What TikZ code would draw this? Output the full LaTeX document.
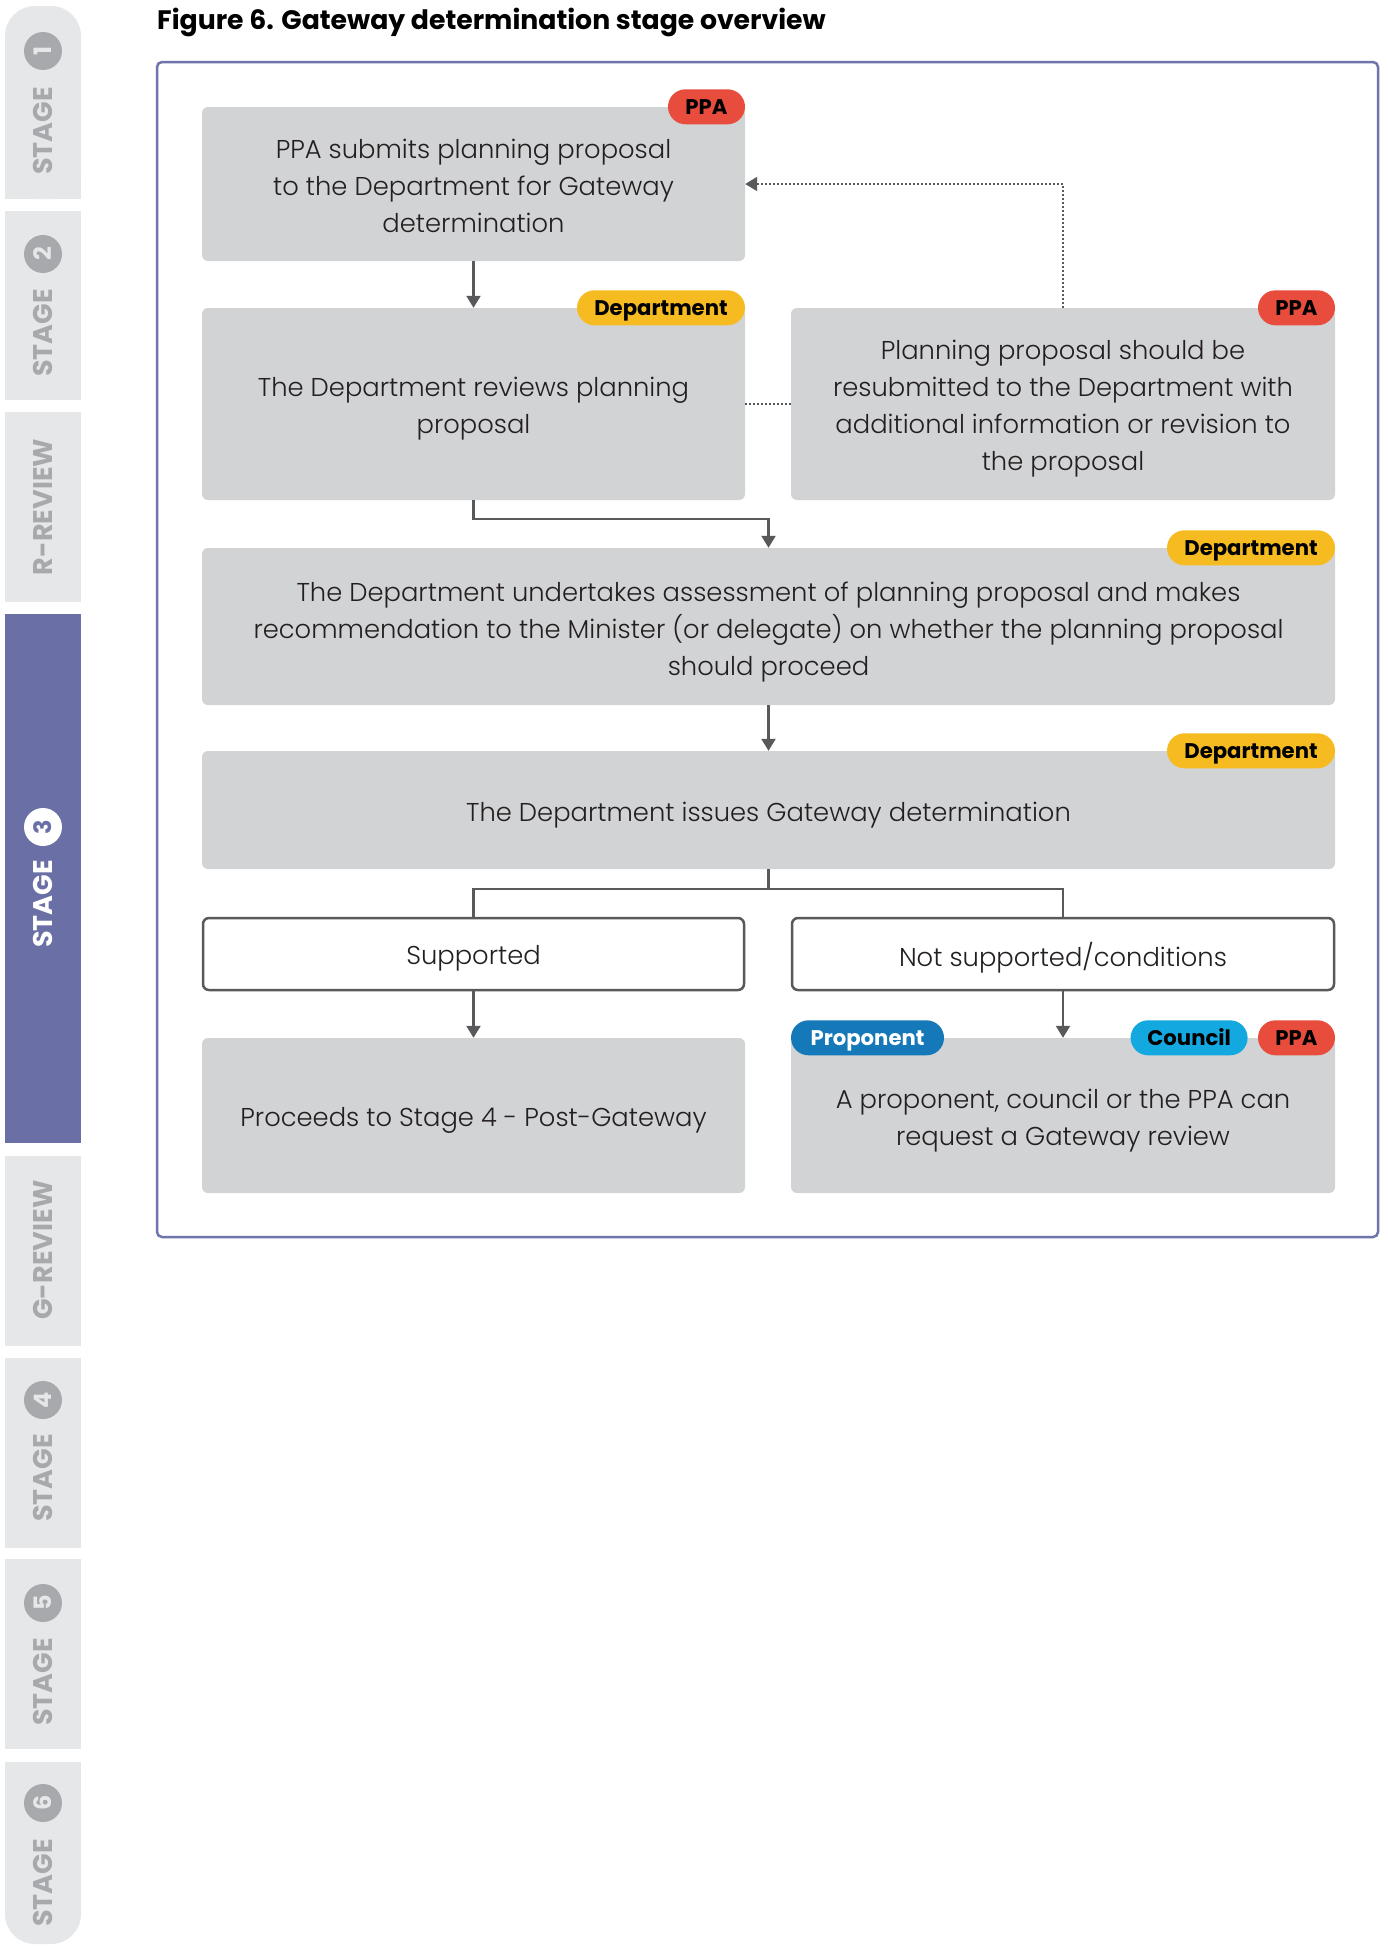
\documentclass[tikz,border=0pt]{standalone}
\usepackage{fontspec}
\setmainfont{Poppins}
\newfontfamily\lightfont{Poppins Light}
\usetikzlibrary{arrows.meta}
\definecolor{tabgrey}{HTML}{E6E7E8}
\definecolor{tabtext}{HTML}{A7A9AC}
\definecolor{stagepurple}{HTML}{6A70A6}
\definecolor{framecol}{HTML}{6E74AC}
\definecolor{boxgrey}{HTML}{D1D3D4}
\definecolor{txt}{HTML}{231F20}
\definecolor{linegrey}{HTML}{58595B}
\definecolor{ppared}{HTML}{E84C3D}
\definecolor{deptyellow}{HTML}{F6BB21}
\definecolor{propblue}{HTML}{1578B9}
\definecolor{councilcyan}{HTML}{13A8E0}
\newcommand\myBody{\lightfont\fontsize{25.8}{37}\selectfont}
\newcommand\myBadge{\bfseries\fontsize{21.2}{21}\selectfont}
\begin{document}
\begin{tikzpicture}[x=1pt,y=-1pt,
  box/.style={fill=boxgrey, rounded corners=6pt, inner sep=0pt},
  outbox/.style={fill=white, draw=linegrey, line width=2.5pt, rounded corners=6pt, inner sep=0pt},
  boxtext/.style={align=center, font=\myBody, text=txt, inner sep=0pt},
  badge/.style={rounded corners=17.5pt, minimum height=35pt, inner sep=0pt, font=\myBadge, text=black, text height=15pt, text depth=0pt},
  arr/.style={draw=linegrey, line width=2.2pt, -{Triangle[width=14pt,length=12pt]}},
  plainline/.style={draw=linegrey, line width=2.2pt},
  dotline/.style={draw=linegrey, line width=2pt, dash pattern=on 2pt off 2pt},
  stagetxt/.style={rotate=90, font=\bfseries\fontsize{27}{27}\selectfont, text=tabtext, inner sep=0pt},
  stagecirc/.style={circle, fill=tabtext, minimum size=38pt, inner sep=0pt, rotate=90, font=\bfseries\fontsize{24}{24}\selectfont, text=tabgrey}
]
\useasboundingbox (0,0) rectangle (1388,1946);
\fill[white] (0,0) rectangle (1388,1946);

% sidebar tabs
\fill[tabgrey, rounded corners=30pt] (5,6) rectangle (81,199);
\fill[tabgrey] (5,100) rectangle (81,199);
\fill[tabgrey] (5,211) rectangle (81,400);
\fill[tabgrey] (5,412) rectangle (81,602);
\fill[stagepurple] (5,614) rectangle (81,1143);
\fill[tabgrey] (5,1156) rectangle (81,1346);
\fill[tabgrey] (5,1358) rectangle (81,1548);
\fill[tabgrey] (5,1559) rectangle (81,1749);
\fill[tabgrey, rounded corners=30pt] (5,1762) rectangle (81,1944);
\fill[tabgrey] (5,1762) rectangle (81,1850);

\node[stagetxt] (s1) at (43,131) {STAGE};
\node[stagecirc] (c1) at (43,51) {1};
\node[stagetxt] (s2) at (43,333) {STAGE};
\node[stagecirc] (c2) at (43,254) {2};
\node[stagetxt] (sr) at (43,507) {R-REVIEW};
\node[stagetxt, text=white] (s3) at (43,904) {STAGE};
\node[stagecirc, fill=white, text=stagepurple] (c3) at (43,827) {3};
\node[stagetxt] (sg) at (43,1250) {G-REVIEW};
\node[stagetxt] (s4) at (43,1478) {STAGE};
\node[stagecirc] (c4) at (43,1400) {4};
\node[stagetxt] (s5) at (43,1682) {STAGE};
\node[stagecirc] (c5) at (43,1603) {5};
\node[stagetxt] (s6) at (43,1883) {STAGE};
\node[stagecirc] (c6) at (43,1803) {6};

% title
\node[anchor=base west, font=\bfseries\fontsize{26.7}{30}\selectfont, text=black, inner sep=0pt] (title) at (157,29) {Figure 6. Gateway determination stage overview};

% frame
\draw[framecol, line width=2.5pt, rounded corners=5pt] (157,62) rectangle (1378,1237);

% boxes
\node[box, minimum width=543pt, minimum height=154pt] (A) at (473.5,184) {};
\node[box, minimum width=543pt, minimum height=192pt] (B) at (473.5,404) {};
\node[box, minimum width=544pt, minimum height=192pt] (C) at (1063,404) {};
\node[box, minimum width=1133pt, minimum height=157pt] (D) at (768.5,626.5) {};
\node[box, minimum width=1133pt, minimum height=118pt] (E) at (768.5,810) {};
\node[outbox, minimum width=541pt, minimum height=72pt] (F) at (473.5,954) {};
\node[outbox, minimum width=542pt, minimum height=72pt] (G) at (1063,954) {};
\node[box, minimum width=543pt, minimum height=155pt] (H) at (473.5,1115.5) {};
\node[box, minimum width=544pt, minimum height=155pt] (I) at (1063,1115.5) {};

% box texts
\node[boxtext] (tA) at ([yshift=-1.5pt]A.center) {PPA submits planning proposal\\to the Department for Gateway\\determination};
\node[boxtext] (tB) at ([yshift=-5pt]B.center) {The Department reviews planning\\proposal};
\node[boxtext] (tC) at ([yshift=-5pt]C.center) {Planning proposal should be\\resubmitted to the Department with\\additional information or revision to\\the proposal};
\node[boxtext] (tD) at ([yshift=-6pt]D.center) {The Department undertakes assessment of planning proposal and makes\\recommendation to the Minister (or delegate) on whether the planning proposal\\should proceed};
\node[boxtext] (tE) at ([yshift=-5pt]E.center) {The Department issues Gateway determination};
\node[boxtext] (tF) at ([yshift=-4pt]F.center) {Supported};
\node[boxtext] (tG) at ([yshift=-4pt]G.center) {Not supported/conditions};
\node[boxtext] (tH) at ([yshift=-5pt]H.center) {Proceeds to Stage 4 - Post-Gateway};
\node[boxtext] (tI) at ([yshift=-5pt]I.center) {A proponent, council or the PPA can\\request a Gateway review};

% badges
\node[badge, fill=ppared, minimum width=77pt, anchor=east] (bA) at (A.north east) {PPA};
\node[badge, fill=deptyellow, minimum width=168pt, anchor=east] (bB) at (B.north east) {Department};
\node[badge, fill=ppared, minimum width=77pt, anchor=east] (bC) at (C.north east) {PPA};
\node[badge, fill=deptyellow, minimum width=168pt, anchor=east] (bD) at (D.north east) {Department};
\node[badge, fill=deptyellow, minimum width=168pt, anchor=east] (bE) at (E.north east) {Department};
\node[badge, fill=ppared, minimum width=77pt, anchor=east] (bI3) at (I.north east) {PPA};
\node[badge, fill=councilcyan, minimum width=117pt, anchor=east, xshift=-10pt] (bI2) at (bI3.west) {Council};
\node[badge, fill=propblue, minimum width=153pt, anchor=west, text=white] (bI1) at (I.north west) {Proponent};

% connectors
\draw[arr] (A.south) -- (B.north);
\draw[arr] (B.south) -- ++(0,19) -| (D.north);
\draw[dotline] (B.east) -- (C.west);
\draw[dotline, -{Triangle[width=14pt,length=12pt]}] (C.north) |- (A.east);
\draw[arr] (D.south) -- (E.north);
\draw[plainline] (E.south) -- ++(0,20) coordinate (split);
\draw[plainline] (F.north) |- (split) -| (G.north);
\draw[arr] (F.south) -- (H.north);
\draw[arr] (G.south) -- (I.north);
\end{tikzpicture}
\end{document}
